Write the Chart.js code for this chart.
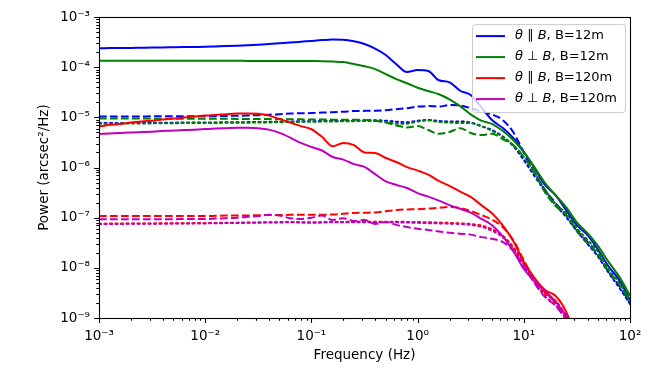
<!DOCTYPE html>
<html><head><meta charset="utf-8">
<script src="https://cdn.jsdelivr.net/npm/chart.js@4/dist/chart.umd.min.js"></script>
<style>html,body{margin:0;padding:0;background:#fff}canvas{display:block}</style>
</head><body>
<canvas id="c" width="664" height="375"></canvas>
<script>
// ---------- data ----------
const freq = [0.001,0.001259,0.001585,0.001995,0.002512,0.003162,0.003981,0.005012,0.00631,0.007943,
  0.01,0.01259,0.01585,0.01995,0.02512,0.03162,0.03981,0.05012,0.0631,0.07943,
  0.1,0.1259,0.1585,0.1995,0.2512,0.3162,0.3981,0.5012,0.631,0.7943,
  1,1.259,1.585,1.995,2.512,3.162,3.981,5.012,6.31,7.943,
  10,12.59,15.85,19.95,25.12,31.62,39.81,50.12,63.1,79.43,100];

const bluePar12 = [2.40e-4,2.41e-4,2.42e-4,2.43e-4,2.45e-4,2.47e-4,2.48e-4,2.50e-4,2.52e-4,2.54e-4,
  2.56e-4,2.60e-4,2.64e-4,2.69e-4,2.75e-4,2.82e-4,2.90e-4,3.00e-4,3.10e-4,3.22e-4,
  3.35e-4,3.48e-4,3.58e-4,3.55e-4,3.30e-4,2.90e-4,2.35e-4,1.75e-4,1.15e-4,8.0e-5,
  8.8e-5,8.4e-5,5.5e-5,5.0e-5,3.4e-5,2.8e-5,1.6e-5,8.9e-6,6.2e-6,3.9e-6,
  2.07e-6,9.8e-7,4.5e-7,2.8e-7,1.4e-7,7.1e-8,4.5e-8,2.3e-8,1.05e-8,5.7e-9,2.3e-9];
const bluePar12Dash = [1.04e-5,1.04e-5,1.04e-5,1.04e-5,1.04e-5,1.05e-5,1.05e-5,1.05e-5,1.05e-5,1.05e-5,
  1.05e-5,1.06e-5,1.07e-5,1.08e-5,1.09e-5,1.11e-5,1.13e-5,1.16e-5,1.19e-5,1.21e-5,
  1.22e-5,1.25e-5,1.27e-5,1.30e-5,1.34e-5,1.35e-5,1.36e-5,1.39e-5,1.46e-5,1.53e-5,
  1.64e-5,1.68e-5,1.64e-5,1.76e-5,1.72e-5,1.53e-5,1.31e-5,1.14e-5,8.9e-6,5.1e-6,
  2.0e-6,8.1e-7,3.6e-7,1.95e-7,1.12e-7,5.6e-8,3.3e-8,1.82e-8,8.3e-9,4.4e-9,2.0e-9];
const bluePar12Dot = [7.7e-6,7.7e-6,7.75e-6,7.75e-6,7.8e-6,7.8e-6,7.85e-6,7.85e-6,7.9e-6,7.9e-6,
  7.9e-6,7.95e-6,8.0e-6,8.0e-6,8.05e-6,8.1e-6,8.15e-6,8.2e-6,8.3e-6,8.35e-6,
  8.4e-6,8.45e-6,8.5e-6,8.55e-6,8.6e-6,8.7e-6,8.8e-6,8.6e-6,8.2e-6,8.0e-6,
  8.6e-6,8.9e-6,8.5e-6,8.3e-6,8.3e-6,7.9e-6,6.7e-6,5.6e-6,4.2e-6,2.7e-6,
  1.41e-6,6.8e-7,3.4e-7,1.78e-7,1.02e-7,5.4e-8,3.0e-8,1.66e-8,7.9e-9,4.0e-9,1.9e-9];

const greenPerp12 = [1.35e-4,1.35e-4,1.35e-4,1.35e-4,1.35e-4,1.35e-4,1.35e-4,1.35e-4,1.35e-4,1.35e-4,
  1.35e-4,1.35e-4,1.35e-4,1.35e-4,1.34e-4,1.34e-4,1.34e-4,1.34e-4,1.34e-4,1.34e-4,
  1.33e-4,1.32e-4,1.30e-4,1.27e-4,1.16e-4,1.05e-4,9.2e-5,7.3e-5,5.8e-5,4.8e-5,
  3.9e-5,3.35e-5,2.9e-5,2.3e-5,1.68e-5,1.15e-5,8.6e-6,7.4e-6,5.4e-6,3.55e-6,
  2.04e-6,1.02e-6,4.9e-7,2.8e-7,1.6e-7,8.1e-8,4.9e-8,2.7e-8,1.3e-8,6.6e-9,2.8e-9];
const greenPerp12Dash = [9.5e-6,9.5e-6,9.5e-6,9.48e-6,9.47e-6,9.45e-6,9.45e-6,9.43e-6,9.42e-6,9.41e-6,
  9.4e-6,9.38e-6,9.36e-6,9.34e-6,9.32e-6,9.3e-6,9.26e-6,9.22e-6,9.18e-6,9.14e-6,
  9.1e-6,9.06e-6,9.02e-6,8.98e-6,8.94e-6,8.9e-6,8.6e-6,7.9e-6,6.9e-6,6.3e-6,
  6.7e-6,5.6e-6,4.7e-6,5.1e-6,6.1e-6,4.9e-6,4.45e-6,4.7e-6,3.7e-6,2.8e-6,
  1.62e-6,7.8e-7,3.2e-7,1.7e-7,1.12e-7,5.4e-8,3.1e-8,1.82e-8,8.3e-9,4.6e-9,2.1e-9];
const greenPerp12Dot = [7.5e-6,7.5e-6,7.55e-6,7.55e-6,7.6e-6,7.6e-6,7.65e-6,7.65e-6,7.7e-6,7.7e-6,
  7.7e-6,7.75e-6,7.8e-6,7.8e-6,7.85e-6,7.9e-6,7.95e-6,8.0e-6,8.1e-6,8.15e-6,
  8.2e-6,8.25e-6,8.3e-6,8.35e-6,8.4e-6,8.5e-6,8.5e-6,8.1e-6,7.5e-6,7.5e-6,
  8.3e-6,8.7e-6,8.1e-6,7.9e-6,7.7e-6,7.7e-6,6.7e-6,5.4e-6,4.1e-6,2.8e-6,
  1.62e-6,8.1e-7,3.6e-7,1.86e-7,1.23e-7,6.2e-8,3.6e-8,2.1e-8,9.1e-9,5.0e-9,2.2e-9];

const redPar120 = [6.6e-6,7.1e-6,7.4e-6,7.9e-6,8.3e-6,8.6e-6,9.1e-6,9.5e-6,9.9e-6,1.04e-5,
  1.09e-5,1.12e-5,1.16e-5,1.19e-5,1.2e-5,1.18e-5,1.09e-5,9.3e-6,7.9e-6,6.7e-6,
  5.8e-6,4.1e-6,2.65e-6,3.1e-6,2.8e-6,2.0e-6,1.95e-6,1.55e-6,1.29e-6,1.02e-6,
  8.7e-7,7.2e-7,5.4e-7,4.3e-7,3.3e-7,2.6e-7,1.78e-7,1.23e-7,7.1e-8,3.45e-8,
  1.32e-8,6.3e-9,3.6e-9,2.75e-9,1.32e-9,3.5e-10,null,null,null,null,null];
const redPar120Dash = [1.08e-7,1.08e-7,1.08e-7,1.08e-7,1.08e-7,1.08e-7,1.08e-7,1.08e-7,1.08e-7,1.08e-7,
  1.08e-7,1.09e-7,1.1e-7,1.1e-7,1.11e-7,1.12e-7,1.13e-7,1.13e-7,1.14e-7,1.14e-7,
  1.15e-7,1.15e-7,1.16e-7,1.2e-7,1.24e-7,1.26e-7,1.27e-7,1.34e-7,1.42e-7,1.46e-7,
  1.48e-7,1.52e-7,1.58e-7,1.63e-7,1.55e-7,1.36e-7,1.13e-7,9.2e-8,6.5e-8,3.6e-8,
  1.43e-8,5.8e-9,3.2e-9,2.0e-9,1.0e-9,4.0e-10,null,null,null,null,null];
const redPar120Dot = [7.6e-8,7.62e-8,7.64e-8,7.66e-8,7.68e-8,7.7e-8,7.72e-8,7.74e-8,7.77e-8,7.8e-8,
  7.82e-8,7.87e-8,7.92e-8,7.97e-8,8.02e-8,8.07e-8,8.12e-8,8.17e-8,8.2e-8,8.15e-8,
  8.1e-8,8.15e-8,8.2e-8,8.25e-8,8.3e-8,8.3e-8,8.3e-8,8.3e-8,8.3e-8,8.25e-8,
  8.2e-8,8.1e-8,8.0e-8,7.9e-8,7.7e-8,7.5e-8,7.0e-8,5.9e-8,4.4e-8,2.6e-8,
  1.25e-8,5.5e-9,3.0e-9,2.2e-9,1.1e-9,5.0e-10,null,null,null,null,null];

const magPerp120 = [4.66e-6,4.77e-6,4.88e-6,5.0e-6,5.1e-6,5.2e-6,5.35e-6,5.5e-6,5.6e-6,5.7e-6,
  5.85e-6,6.0e-6,6.1e-6,6.2e-6,6.25e-6,6.1e-6,5.7e-6,4.9e-6,3.96e-6,3.1e-6,
  2.57e-6,2.19e-6,1.62e-6,1.44e-6,1.17e-6,1.03e-6,7.4e-7,5.3e-7,4.5e-7,3.9e-7,
  3.1e-7,2.63e-7,2.19e-7,1.78e-7,1.51e-7,1.26e-7,9.5e-8,7.1e-8,4.3e-8,2.18e-8,
  9.5e-9,5.5e-9,3.45e-9,2.1e-9,1.1e-9,4.6e-10,null,null,null,null,null];
const magPerp120Dash = [9.3e-8,9.3e-8,9.3e-8,9.3e-8,9.3e-8,9.35e-8,9.35e-8,9.35e-8,9.4e-8,9.4e-8,
  9.4e-8,9.6e-8,9.8e-8,1.0e-7,1.04e-7,1.08e-7,1.15e-7,1.1e-7,9.8e-8,9.4e-8,
  1.0e-7,1.1e-7,9.0e-8,9.8e-8,8.6e-8,9.0e-8,7.5e-8,8.2e-8,7.2e-8,6.5e-8,
  6.0e-8,5.7e-8,5.3e-8,5.0e-8,4.8e-8,4.6e-8,4.1e-8,3.8e-8,3.3e-8,2.2e-8,
  1.09e-8,5.0e-9,2.6e-9,1.74e-9,9.0e-10,4.0e-10,null,null,null,null,null];
const magPerp120Dot = [7.5e-8,7.5e-8,7.52e-8,7.54e-8,7.56e-8,7.58e-8,7.6e-8,7.62e-8,7.65e-8,7.68e-8,
  7.7e-8,7.75e-8,7.8e-8,7.85e-8,7.9e-8,7.95e-8,8.0e-8,8.05e-8,8.1e-8,8.0e-8,
  7.9e-8,8.0e-8,8.1e-8,8.1e-8,8.1e-8,8.1e-8,8.1e-8,8.1e-8,8.1e-8,8.0e-8,
  7.9e-8,7.8e-8,7.7e-8,7.6e-8,7.5e-8,7.2e-8,6.6e-8,5.5e-8,4.1e-8,2.4e-8,
  1.14e-8,5.2e-9,2.7e-9,1.8e-9,9.5e-10,4.0e-10,null,null,null,null,null];

const seriesNames = ['θ ∥ B, B=12m', 'θ ⊥ B, B=12m', 'θ ∥ B, B=120m', 'θ ⊥ B, B=120m'];
const seriesColors = ['#0000ff', '#008000', '#ff0000', '#bf00bf'];
const seriesGroups = [
  [bluePar12, bluePar12Dash, bluePar12Dot],
  [greenPerp12, greenPerp12Dash, greenPerp12Dot],
  [redPar120, redPar120Dash, redPar120Dot],
  [magPerp120, magPerp120Dash, magPerp120Dot]
];
const xTickExps = [-3, -2, -1, 0, 1, 2];
const xTickLabels = ['10⁻³', '10⁻²', '10⁻¹', '10⁰', '10¹', '10²'];
const yTickExps = [-9, -8, -7, -6, -5, -4, -3];
const yTickLabels = ['10⁻⁹', '10⁻⁸', '10⁻⁷', '10⁻⁶', '10⁻⁵', '10⁻⁴', '10⁻³'];
const xTitle = 'Frequency (Hz)';
const yTitle = 'Power (arcsec²/Hz)';

// ---------- chart ----------
const FS = 13.5;
const LFS = 13;
const FAM = "'DejaVu Sans', sans-serif";
const dashStyles = [[], [7.7, 3.3], [2.1, 3.4]];

const datasets = [];
seriesGroups.forEach((grp, g) => {
  grp.forEach((vals, s) => {
    datasets.push({
      label: s === 0 ? seriesNames[g] : seriesNames[g] + ' (' + (s === 1 ? 'dashed' : 'dotted') + ')',
      data: freq.map((f, i) => ({x: f, y: vals[i]})),
      borderColor: seriesColors[g],
      backgroundColor: seriesColors[g],
      borderWidth: 2,
      borderDash: dashStyles[s],
      borderCapStyle: s === 2 ? 'round' : 'butt',
      pointRadius: 0,
      fill: false,
      spanGaps: false,
      cubicInterpolationMode: 'monotone',
      _legend: s === 0,
      _group: g
    });
  });
});
datasets.forEach((d, i) => { d.order = datasets.length - 1 - i; });

function isPow10(v) { const e = Math.log10(v); return Math.abs(e - Math.round(e)) < 1e-9; }
function logTicks(exps) {
  const out = [];
  for (let k = 0; k < exps.length; k++) {
    const e = exps[k];
    const top = k === exps.length - 1 ? 1 : 9;
    for (let m = 1; m <= top; m++) out.push({value: parseFloat((m * Math.pow(10, e)).toPrecision(6))});
  }
  return out;
}

const framePlugin = {
  id: 'frameAndLegend',
  afterDatasetsDraw(chart) {
    const {ctx, chartArea: a, scales} = chart;
    ctx.save();
    ctx.strokeStyle = '#000';
    ctx.lineWidth = 1.1;
    ctx.beginPath();
    scales.x.ticks.forEach(t => {
      const p = Math.round(scales.x.getPixelForValue(t.value)) + 0.5;
      const L = isPow10(t.value) ? 4.9 : 2.8;
      ctx.moveTo(p, a.bottom); ctx.lineTo(p, a.bottom + L);
    });
    scales.y.ticks.forEach(t => {
      const p = Math.round(scales.y.getPixelForValue(t.value)) + 0.5;
      const L = isPow10(t.value) ? 4.9 : 2.8;
      ctx.moveTo(a.left, p); ctx.lineTo(a.left - L, p);
    });
    ctx.stroke();
    ctx.strokeRect(Math.round(a.left) + 0.5, Math.round(a.top) + 0.5,
      Math.round(a.right - a.left), Math.round(a.bottom - a.top));

    // legend (matplotlib-like, inside upper right)
    const items = chart.data.datasets.filter(d => d._legend);
    const norm = LFS + 'px ' + FAM, ital = 'italic ' + LFS + 'px ' + FAM;
    function segs(label) {
      const ci = label.indexOf(',');
      const math = label.slice(0, ci), rest = label.slice(ci);
      const parts = math.split(' ');
      return [
        {t: parts[0], f: ital}, {t: ' ' + parts[1] + ' ', f: norm}, {t: parts[2], f: ital}, {t: rest, f: norm}
      ];
    }
    let maxW = 0;
    items.forEach(d => {
      let w = 0; segs(d.label).forEach(s => { ctx.font = s.f; w += ctx.measureText(s.t).width; });
      maxW = Math.max(maxW, w);
    });
    const pad = 4, hl = 29, htp = 10, rowH = 21;
    const bw = pad * 2 + hl + htp + maxW + 4;
    const bh = 88;
    const bx = a.right - 5 - bw, by = a.top + 7;
    ctx.beginPath();
    if (ctx.roundRect) ctx.roundRect(bx + 0.5, by + 0.5, bw, bh, 3); else ctx.rect(bx + 0.5, by + 0.5, bw, bh);
    ctx.fillStyle = 'rgba(255,255,255,0.8)';
    ctx.fill();
    ctx.strokeStyle = '#cccccc';
    ctx.lineWidth = 1;
    ctx.stroke();
    items.forEach((d, i) => {
      const cy = by + 12 + i * rowH;
      ctx.beginPath();
      ctx.strokeStyle = d.borderColor;
      ctx.lineWidth = 2;
      ctx.setLineDash([]);
      ctx.moveTo(bx + pad, cy); ctx.lineTo(bx + pad + hl, cy);
      ctx.stroke();
      let tx = bx + pad + hl + htp;
      ctx.fillStyle = '#000';
      ctx.textBaseline = 'middle';
      ctx.textAlign = 'left';
      segs(d.label).forEach(s => { ctx.font = s.f; ctx.fillText(s.t, tx, cy); tx += ctx.measureText(s.t).width; });
    });
    ctx.restore();
  }
};

new Chart(document.getElementById('c'), {
  type: 'line',
  data: {datasets},
  options: {
    responsive: false,
    animation: false,
    devicePixelRatio: 1,
    layout: {padding: {left: 0, right: 34, top: 17, bottom: 0}},
    plugins: {legend: {display: false}, tooltip: {enabled: false}},
    scales: {
      x: {
        type: 'logarithmic', min: 0.001, max: 100,
        afterBuildTicks: s => { s.ticks = logTicks(xTickExps); },
        afterFit: s => { s.height = 57; },
        grid: {display: false, drawTicks: false},
        border: {display: false},
        ticks: {
          autoSkip: false, maxRotation: 0, minRotation: 0, padding: 10, color: '#000',
          font: {family: FAM, size: FS},
          callback: v => isPow10(v) ? xTickLabels[xTickExps.indexOf(Math.round(Math.log10(v)))] : ''
        },
        title: {display: true, text: xTitle, color: '#000', font: {family: FAM, size: FS}, padding: {top: 0, bottom: 11}}
      },
      y: {
        type: 'logarithmic', min: 1e-9, max: 1e-3,
        afterBuildTicks: s => { s.ticks = logTicks(yTickExps); },
        afterFit: s => { s.width = 99; },
        grid: {display: false, drawTicks: false},
        border: {display: false},
        ticks: {
          autoSkip: false, padding: 9, color: '#000',
          font: {family: FAM, size: FS},
          callback: v => isPow10(v) ? yTickLabels[yTickExps.indexOf(Math.round(Math.log10(v)))] : ''
        },
        title: {display: true, text: yTitle, color: '#000', font: {family: FAM, size: FS}, padding: {top: 36, bottom: 0}}
      }
    }
  },
  plugins: [framePlugin]
});
</script>
</body></html>
